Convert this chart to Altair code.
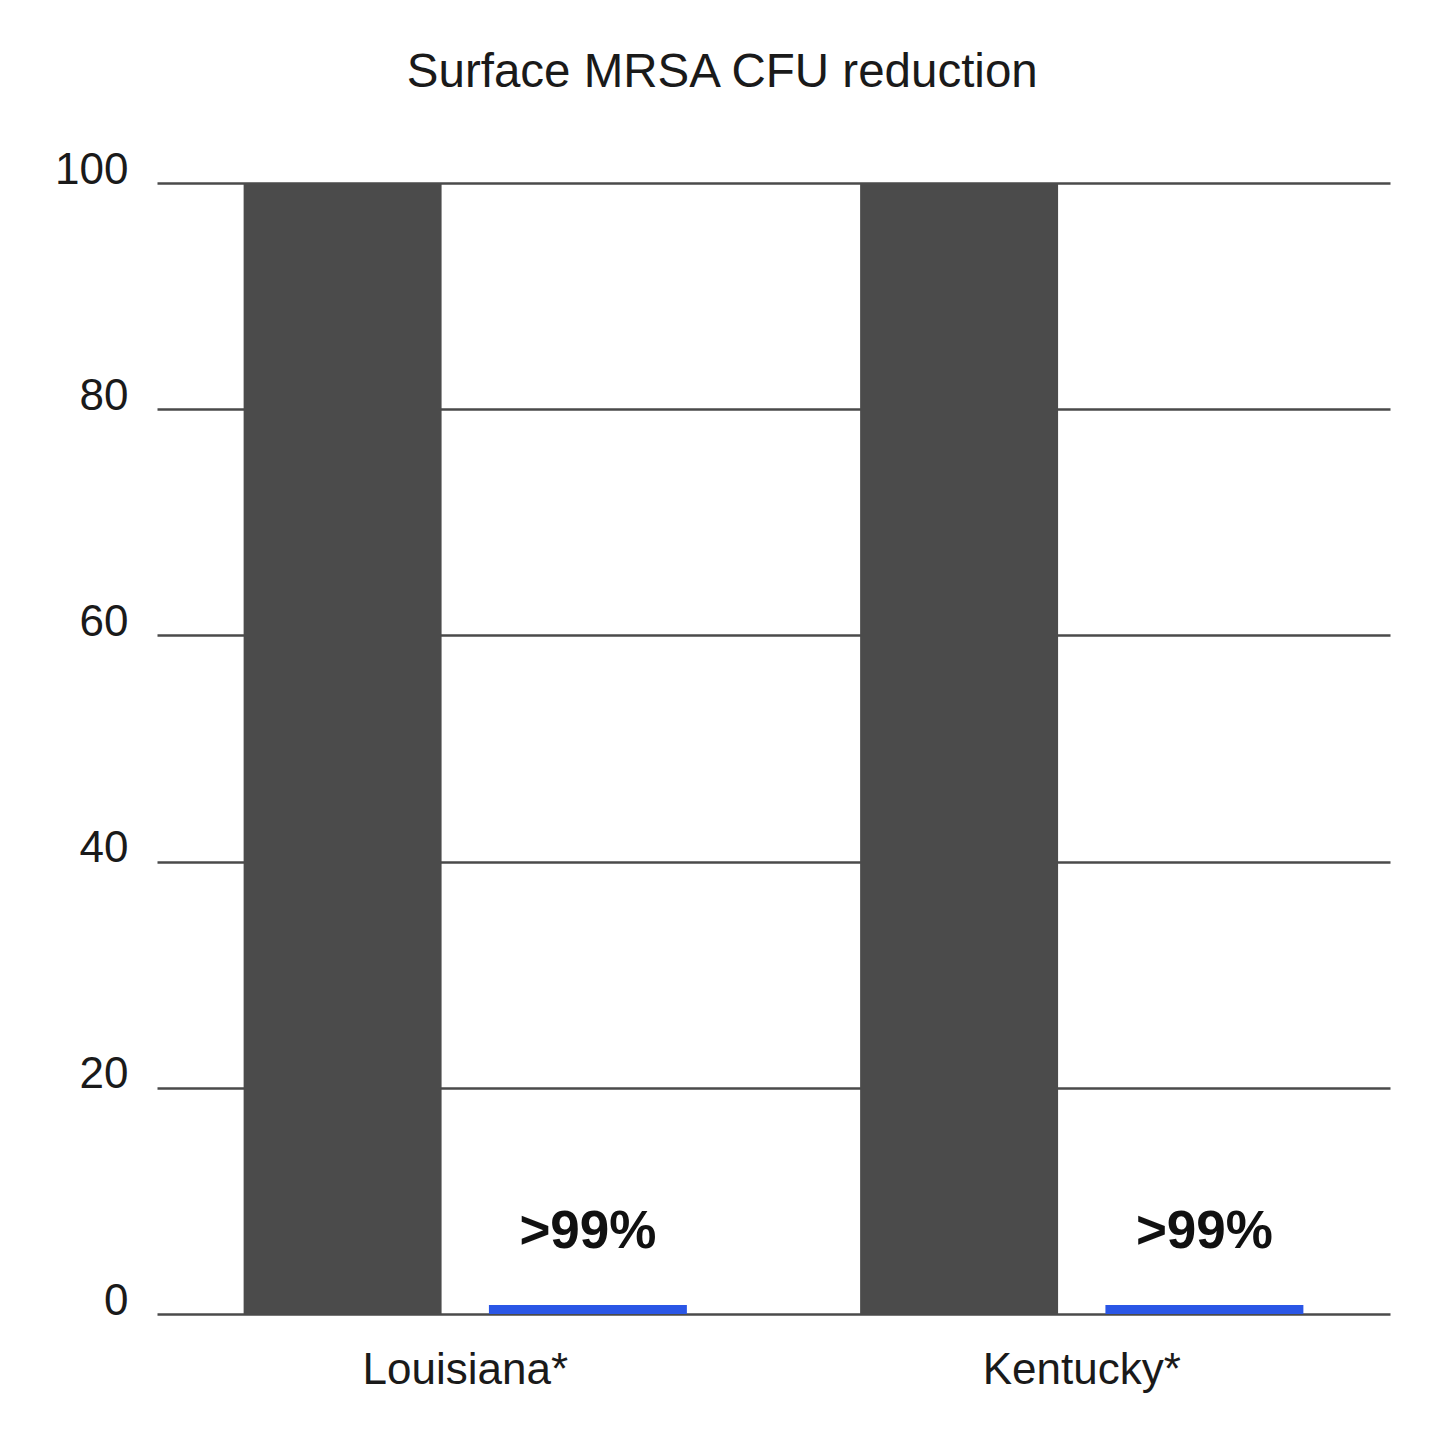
import altair as alt
import pandas as pd

sites = ["Louisiana*", "Kentucky*"]
groups = ["Before", "After"]
before_vals = [100, 100]
after_vals = [0.8, 0.8]
after_labels = [">99%", ">99%"]

rows = []
for i, s in enumerate(sites):
    rows.append({"site": s, "group": groups[0], "value": before_vals[i], "label": ""})
    rows.append({"site": s, "group": groups[1], "value": after_vals[i], "label": after_labels[i]})
df = pd.DataFrame(rows)

FONT = "Liberation Sans"

x_enc = alt.X("site:N", sort=sites, title=None,
              scale=alt.Scale(domain=sites, paddingInner=0.281, paddingOuter=0.1405),
              axis=alt.Axis(labelAngle=0, labelFontSize=44, labelFont=FONT, labelColor="#1a1a1a",
                            labelPadding=34, labelLimit=0, ticks=False, domain=False, grid=False))
xo_enc = alt.XOffset("group:N", sort=groups,
                     scale=alt.Scale(domain=groups, paddingInner=0.193, paddingOuter=0))
y_enc = alt.Y("value:Q", title=None,
              scale=alt.Scale(domain=[0, 100], nice=False),
              axis=alt.Axis(values=[0, 20, 40, 60, 80, 100], labelFontSize=44, labelFont=FONT,
                            labelColor="#1a1a1a", labelPadding=29, labelBaseline="alphabetic",
                            ticks=False, domain=False, grid=True, gridColor="#4a4a4a",
                            gridWidth=2.5, gridOpacity=1))

bars = alt.Chart(df).mark_bar().encode(
    x=x_enc,
    xOffset=xo_enc,
    y=y_enc,
    color=alt.Color("group:N", sort=groups,
                    scale=alt.Scale(domain=groups, range=["#4b4b4b", "#2a56e6"]),
                    legend=None),
)

text = alt.Chart(df).mark_text(
    font=FONT, fontSize=53, fontWeight="bold", color="#111111",
    baseline="alphabetic", align="center", dy=-57
).encode(
    x=alt.X("site:N", sort=sites),
    xOffset=alt.XOffset("group:N", sort=groups),
    y=alt.Y("value:Q"),
    text="label:N",
)

chart = alt.layer(bars, text).properties(
    width=1233,
    height=1131,
    autosize=alt.AutoSizeParams(type="none"),
    padding={"left": 149, "top": 175, "right": 42, "bottom": 110},
    title=alt.TitleParams("Surface MRSA CFU reduction", fontSize=47.5, font=FONT,
                          fontWeight="normal", color="#1a1a1a", anchor="middle",
                          frame="bounds", offset=-12),
).configure_view(stroke=None)

chart.save("out.html", embed_options={"renderer": "svg", "actions": False})
